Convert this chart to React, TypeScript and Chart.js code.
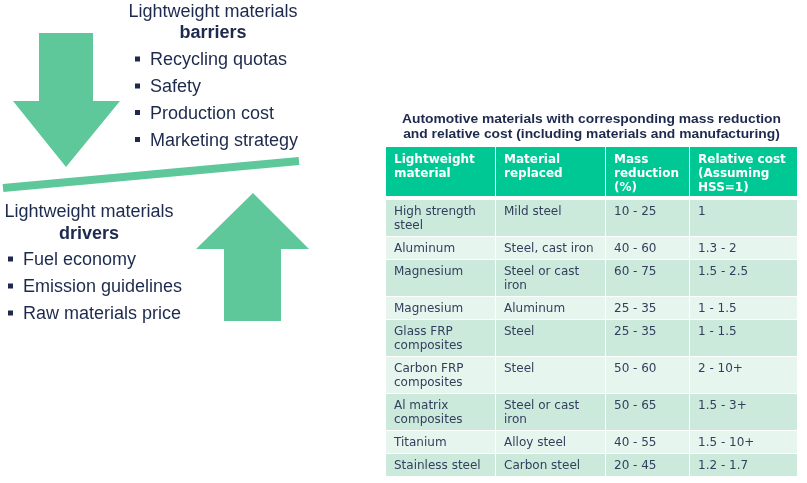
import React, { useEffect, useRef } from "react";
import { Chart, registerables } from "chart.js";

Chart.register(...registerables);

// ---------- data ----------
const tableTitle = [
  "Automotive materials with corresponding mass reduction",
  "and relative cost (including materials and manufacturing)",
];
const headers = [
  "Lightweight material",
  "Material replaced",
  "Mass reduction (%)",
  "Relative cost (Assuming HSS=1)",
];
const materials = [
  "High strength steel",
  "Aluminum",
  "Magnesium",
  "Magnesium",
  "Glass FRP composites",
  "Carbon FRP composites",
  "Al matrix composites",
  "Titanium",
  "Stainless steel",
];
const replaced = [
  "Mild steel",
  "Steel, cast iron",
  "Steel or cast iron",
  "Aluminum",
  "Steel",
  "Steel",
  "Steel or cast iron",
  "Alloy steel",
  "Carbon steel",
];
const massReduction = [
  "10 - 25",
  "40 - 60",
  "60 - 75",
  "25 - 35",
  "25 - 35",
  "50 - 60",
  "50 - 65",
  "40 - 55",
  "20 - 45",
];
const relativeCost = [
  "1",
  "1.3 - 2",
  "1.5 - 2.5",
  "1 - 1.5",
  "1 - 1.5",
  "2 - 10+",
  "1.5 - 3+",
  "1.5 - 10+",
  "1.2 - 1.7",
];
const barriersTitle = ["Lightweight materials", "barriers"];
const barriers = ["Recycling quotas", "Safety", "Production cost", "Marketing strategy"];
const driversTitle = ["Lightweight materials", "drivers"];
const drivers = ["Fuel economy", "Emission guidelines", "Raw materials price"];

// ---------- styles / layout ----------
const COL_WIDTHS = [110, 110, 84, 107];
const ROW_PAD = 9;
const LINE_H = 14;
const CELL_PAD_X = 8;
const HEADER_GAP = 4;
const TITLE_W = 379;

const C = {
  header: "#00c894",
  rowDark: "#cbeadc",
  rowLight: "#e6f5ee",
  cellText: "#323f5c",
  navy: "#1d2a4d",
  arrow: "#5ec89b",
};
const F_CELL = '12px "DejaVu Sans"';
const F_HEAD = 'bold 12px "DejaVu Sans"';
const F_TITLE = 'bold 13px "Liberation Sans", Arial, sans-serif';
const F_LEFT = '18px "Liberation Sans", Arial, sans-serif';
const F_LEFT_B = 'bold 18px "Liberation Sans", Arial, sans-serif';

const DECOR = {
  downArrow: [[39, 33], [93, 33], [93, 101], [120, 101], [66, 167], [13, 101], [39, 101]],
  upArrow: [[253, 193], [309, 249], [281, 249], [281, 321], [224, 321], [224, 249], [196, 249]],
  beam: { x1: 3, y1: 188, x2: 299, y2: 161, w: 8 },
  barriers: { cx: 213, b1: 17, b2: 38, bx: 135, tx: 150, items: [65, 92, 118.5, 145.5] },
  drivers: { cx: 89, b1: 217, b2: 239, bx: 8, tx: 23, items: [265, 292, 319] },
};

function wrap(ctx: CanvasRenderingContext2D, text: string, maxW: number): string[] {
  const words = text.split(" ");
  const lines: string[] = [];
  let cur = "";
  for (const w of words) {
    const t = cur ? cur + " " + w : w;
    if (cur && ctx.measureText(t).width > maxW) {
      lines.push(cur);
      cur = w;
    } else cur = t;
  }
  if (cur) lines.push(cur);
  return lines;
}

export default function App() {
  const ref = useRef<HTMLCanvasElement | null>(null);

  useEffect(() => {
    document.body.style.margin = "0";
    const canvas = ref.current!;
    const mctx = canvas.getContext("2d")!;

    const colStarts: number[] = [];
    let accC = 0;
    COL_WIDTHS.forEach((w) => {
      colStarts.push(accC);
      accC += w;
    });
    const totalCols = accC;

    const columns = [materials, replaced, massReduction, relativeCost];
    mctx.font = F_CELL;
    const rows = materials.map((_, r) => {
      const cells = columns.map((col, c) => wrap(mctx, col[r], COL_WIDTHS[c] - 12));
      const lines = Math.max(...cells.map((l) => l.length));
      return { cells, units: ROW_PAD + lines * LINE_H };
    });
    mctx.font = F_HEAD;
    const headCells = headers.map((h, c) => wrap(mctx, h, COL_WIDTHS[c] - 12));
    const headLines = Math.max(...headCells.map((l) => l.length));
    const totalRows = rows.reduce((s, r) => s + r.units, 0);

    const drawPoly = (ctx: CanvasRenderingContext2D, pts: number[][]) => {
      ctx.beginPath();
      pts.forEach(([x, y], i) => (i ? ctx.lineTo(x, y) : ctx.moveTo(x, y)));
      ctx.closePath();
      ctx.fill();
    };

    const infographic = {
      id: "infographic",
      afterDraw(chart: any) {
        const ctx: CanvasRenderingContext2D = chart.ctx;
        const xs = chart.scales.x;
        const ys = chart.scales.y;
        const area = chart.chartArea;
        ctx.save();

        // ---- table body ----
        let acc = 0;
        rows.forEach((row, r) => {
          const top = ys.getPixelForValue(acc);
          const bottom = ys.getPixelForValue(acc + row.units);
          ctx.fillStyle = r % 2 === 0 ? C.rowDark : C.rowLight;
          COL_WIDTHS.forEach((w, c) => {
            const x0 = xs.getPixelForValue(colStarts[c]);
            const x1 = xs.getPixelForValue(colStarts[c] + w);
            const gap = c < COL_WIDTHS.length - 1 ? 1 : 0;
            ctx.fillRect(x0, top, x1 - x0 - gap, bottom - top - 1);
          });
          ctx.fillStyle = C.cellText;
          ctx.font = F_CELL;
          ctx.textBaseline = "alphabetic";
          ctx.textAlign = "left";
          row.cells.forEach((lines, c) => {
            const x0 = xs.getPixelForValue(colStarts[c]) + CELL_PAD_X;
            lines.forEach((ln, k) => ctx.fillText(ln, x0, top + 15 + k * LINE_H));
          });
          acc += row.units;
        });

        // ---- header ----
        const hBottom = area.top - HEADER_GAP;
        const hTop = hBottom - (headLines * LINE_H + 7);
        ctx.font = F_HEAD;
        COL_WIDTHS.forEach((w, c) => {
          const x0 = xs.getPixelForValue(colStarts[c]);
          const x1 = xs.getPixelForValue(colStarts[c] + w);
          const gap = c < COL_WIDTHS.length - 1 ? 1 : 0;
          ctx.fillStyle = C.header;
          ctx.fillRect(x0, hTop, x1 - x0 - gap, hBottom - hTop);
          ctx.fillStyle = "#ffffff";
          headCells[c].forEach((ln, k) => ctx.fillText(ln, x0 + CELL_PAD_X, hTop + 16 + k * LINE_H));
        });

        // ---- title ----
        ctx.font = F_TITLE;
        const s = TITLE_W / ctx.measureText(tableTitle[0]).width;
        const cx = (xs.getPixelForValue(0) + xs.getPixelForValue(totalCols)) / 2;
        ctx.fillStyle = C.navy;
        ctx.textAlign = "center";
        tableTitle.forEach((t, i) => {
          ctx.save();
          ctx.translate(cx, hTop - 24 + i * 15);
          ctx.scale(s, 1);
          ctx.fillText(t, 0, 0);
          ctx.restore();
        });

        // ---- left graphic ----
        ctx.fillStyle = C.arrow;
        drawPoly(ctx, DECOR.downArrow);
        drawPoly(ctx, DECOR.upArrow);
        const b = DECOR.beam;
        ctx.strokeStyle = C.arrow;
        ctx.lineWidth = b.w;
        ctx.lineCap = "butt";
        ctx.beginPath();
        ctx.moveTo(b.x1, b.y1);
        ctx.lineTo(b.x2, b.y2);
        ctx.stroke();

        const block = (title: string[], items: string[], L: any) => {
          ctx.fillStyle = C.navy;
          ctx.textAlign = "center";
          ctx.font = F_LEFT;
          ctx.fillText(title[0], L.cx, L.b1);
          ctx.font = F_LEFT_B;
          ctx.fillText(title[1], L.cx, L.b2);
          ctx.textAlign = "left";
          ctx.font = F_LEFT;
          items.forEach((it, i) => {
            const y = L.items[i];
            ctx.fillRect(L.bx, y - 8.5, 5, 5);
            ctx.fillText(it, L.tx, y);
          });
        };
        block(barriersTitle, barriers, DECOR.barriers);
        block(driversTitle, drivers, DECOR.drivers);

        ctx.restore();
      },
    };

    const chart = new Chart(canvas, {
      type: "scatter",
      data: { datasets: [{ data: [] }] },
      options: {
        animation: false,
        responsive: false,
        devicePixelRatio: 1,
        layout: { padding: { left: 386, right: 10, top: 200, bottom: 6 } },
        scales: {
          x: { type: "linear", min: 0, max: totalCols, display: false },
          y: { type: "linear", min: 0, max: totalRows, reverse: true, display: false },
        },
        plugins: { legend: { display: false }, tooltip: { enabled: false } },
      },
      plugins: [infographic],
    });
    return () => chart.destroy();
  }, []);

  return (
    <div style={{ width: 807, height: 483, background: "#ffffff" }}>
      <canvas ref={ref} width={807} height={483} style={{ display: "block", width: 807, height: 483 }} />
    </div>
  );
}
